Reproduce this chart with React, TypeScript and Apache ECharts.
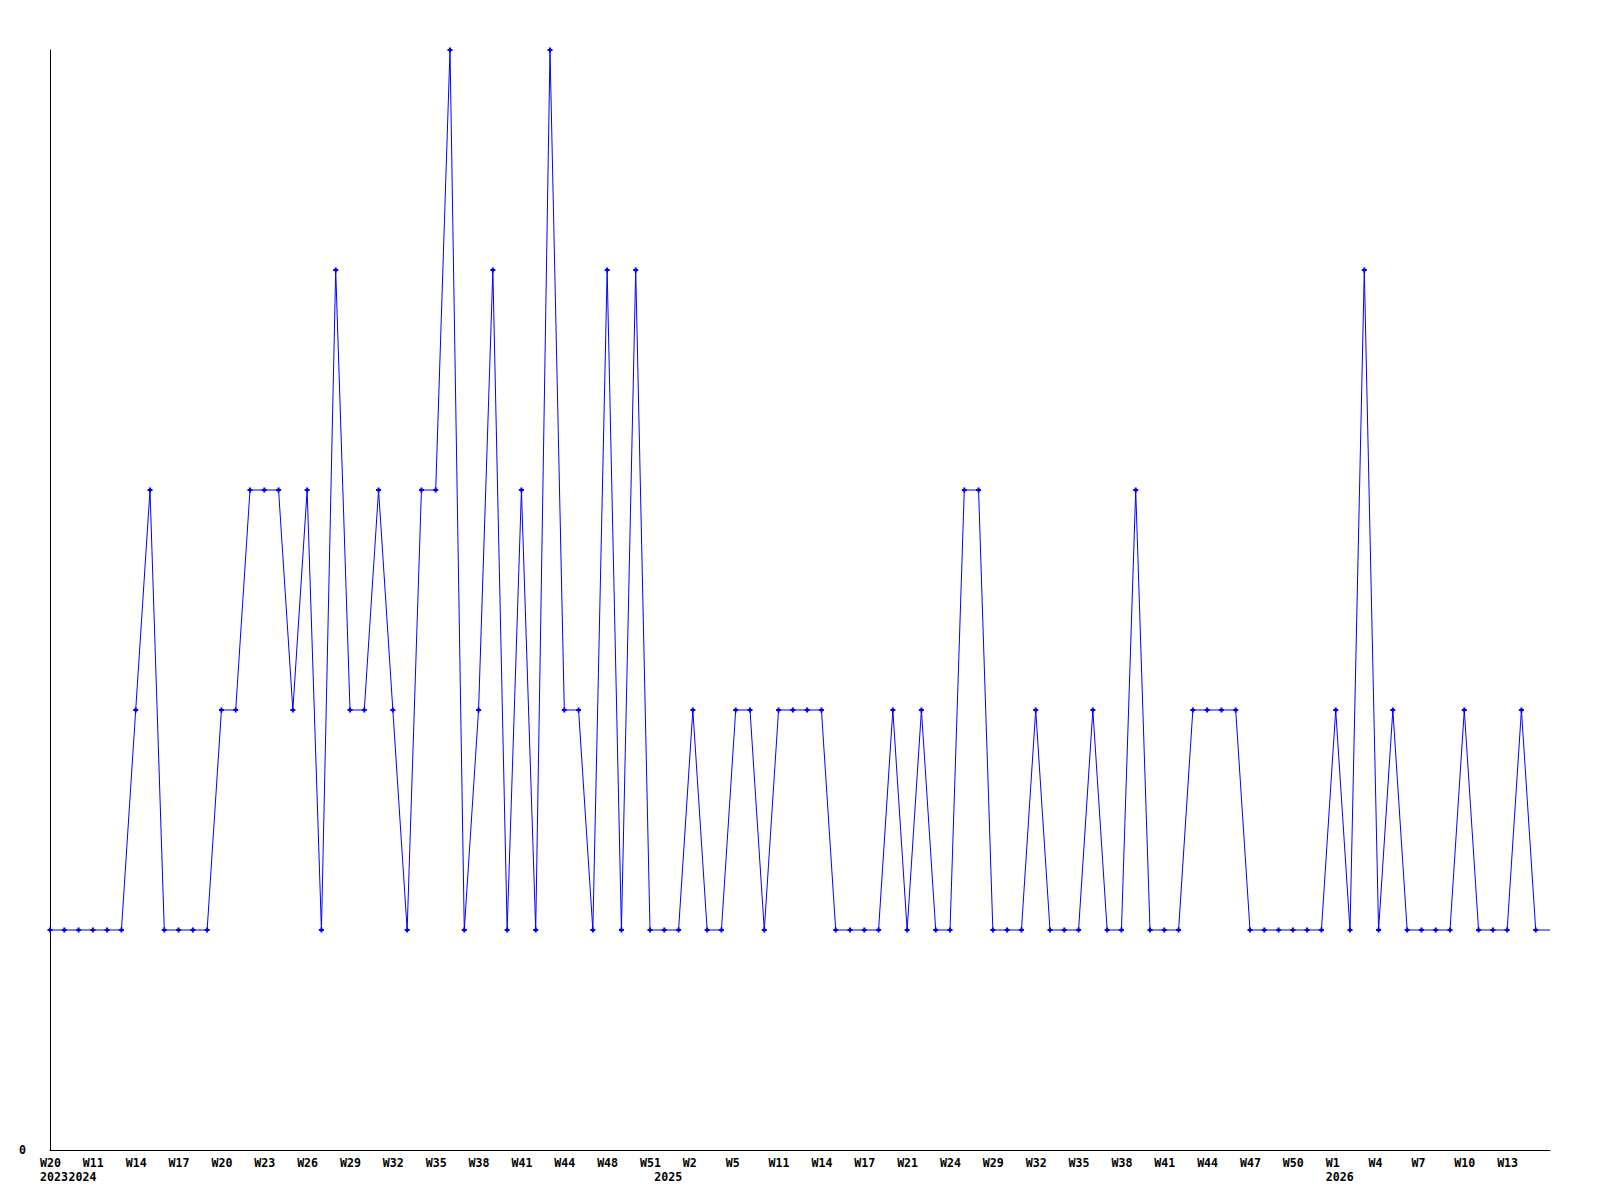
import React, { useEffect, useRef } from "react";
import * as echarts from "echarts";

// Week keys (one per plotted category)
const weekLabels = [
  "W20", "W21", "W10", "W11", "W12", "W13", "W14", "W15", "W16", "W17",
  "W18", "W19", "W20", "W21", "W22", "W23", "W24", "W25", "W26", "W27",
  "W28", "W29", "W30", "W31", "W32", "W33", "W34", "W35", "W36", "W37",
  "W38", "W39", "W40", "W41", "W42", "W43", "W44", "W45", "W46", "W48",
  "W49", "W50", "W51", "W52", "W1", "W2", "W3", "W4", "W5", "W7",
  "W9", "W11", "W12", "W13", "W14", "W15", "W16", "W17", "W18", "W20",
  "W21", "W22", "W23", "W24", "W26", "W27", "W29", "W30", "W31", "W32",
  "W33", "W34", "W35", "W36", "W37", "W38", "W39", "W40", "W41", "W42",
  "W43", "W44", "W45", "W46", "W47", "W48", "W49", "W50", "W51", "W52",
  "W1", "W2", "W3", "W4", "W5", "W6", "W7", "W8", "W9", "W10",
  "W11", "W12", "W13", "W14", "W15", "W16",
];

// Indices of categories whose week label is printed
const weekTickIdx = [
  0, 3, 6, 9, 12, 15, 18, 21, 24, 27, 30, 33, 36, 39, 42, 45, 48, 51,
  54, 57, 60, 63, 66, 69, 72, 75, 78, 81, 84, 87, 90, 93, 96, 99, 102,
];

// Year labels shown under the week row (blank where none)
const yearLabels: string[] = weekLabels.map(() => "");
yearLabels[0] = "2023";
yearLabels[2] = "2024";
yearLabels[43] = "2025";
yearLabels[90] = "2026";

const values = [
  1, 1, 1, 1, 1, 1, 2, 3, 1, 1,
  1, 1, 2, 2, 3, 3, 3, 2, 3, 1,
  4, 2, 2, 3, 2, 1, 3, 3, 5, 1,
  2, 4, 1, 3, 1, 5, 2, 2, 1, 4,
  1, 4, 1, 1, 1, 2, 1, 1, 2, 2,
  1, 2, 2, 2, 2, 1, 1, 1, 1, 2,
  1, 2, 1, 1, 3, 3, 1, 1, 1, 2,
  1, 1, 1, 2, 1, 1, 3, 1, 1, 1,
  2, 2, 2, 2, 1, 1, 1, 1, 1, 1,
  2, 1, 4, 1, 2, 1, 1, 1, 1, 2,
  1, 1, 1, 2, 1, 1,
];

const categories = weekLabels.map((w, i) => `${i}-${w}`);

const FONT = "DejaVu Sans Mono";

export default function App() {
  const ref = useRef<HTMLDivElement>(null);

  useEffect(() => {
    if (!ref.current) return;
    const chart = echarts.init(ref.current, undefined, { renderer: "svg" });
    const plus = "path://M1.5,0H3.5V1.5H5V3.5H3.5V5H1.5V3.5H0V1.5H1.5Z";
    const labelBase = {
      color: "#000",
      fontFamily: FONT,
      fontWeight: "bold" as const,
      fontSize: 11.6,
    };
    chart.setOption({
      animation: false,
      backgroundColor: "#fff",
      grid: [
        { left: 50, top: 50, width: 1500, height: 1100, containLabel: false },
        { left: 40, top: 50, width: 1500, height: 1100, containLabel: false },
      ],
      xAxis: [
        {
          type: "category",
          gridIndex: 0,
          position: "bottom",
          data: categories,
          boundaryGap: false,
          axisLine: { show: true, lineStyle: { color: "#000", width: 1 } },
          axisTick: { show: false },
          axisLabel: { show: false },
          splitLine: { show: false },
        },
        {
          type: "category",
          gridIndex: 1,
          position: "bottom",
          data: categories,
          boundaryGap: false,
          axisLine: { show: false },
          axisTick: { show: false },
          splitLine: { show: false },
          axisLabel: {
            ...labelBase,
            align: "left",
            margin: 7,
            interval: (i: number) => weekTickIdx.includes(i),
            formatter: (_v: string, i: number) => weekLabels[i],
          },
        },
        {
          type: "category",
          gridIndex: 1,
          position: "bottom",
          offset: 0,
          data: categories,
          boundaryGap: false,
          axisLine: { show: false },
          axisTick: { show: false },
          splitLine: { show: false },
          axisLabel: {
            ...labelBase,
            align: "left",
            margin: 21,
            interval: (i: number) => yearLabels[i] !== "",
            formatter: (_v: string, i: number) => yearLabels[i],
          },
        },
      ],
      yAxis: [
        {
          type: "value",
          gridIndex: 0,
          min: 0,
          max: 5,
          interval: 5,
          axisLine: { show: true, lineStyle: { color: "#000", width: 1 } },
          axisTick: { show: false },
          splitLine: { show: false },
          axisLabel: {
            ...labelBase,
            margin: 24,
            formatter: (v: number) => (v === 0 ? "0" : ""),
          },
        },
        { type: "value", gridIndex: 1, show: false, min: 0, max: 5 },
      ],
      series: [
        {
          type: "line",
          xAxisIndex: 0,
          yAxisIndex: 0,
          data: values.map((v, i) =>
            i === values.length - 1 ? { value: v, symbol: "none" } : v
          ),
          showAllSymbol: true,
          symbol: plus,
          symbolSize: 5,
          lineStyle: { color: "#0000ff", width: 1 },
          itemStyle: { color: "#0000ff" },
          clip: false,
        },
      ],
    });
    return () => chart.dispose();
  }, []);

  return (
    <div
      ref={ref}
      style={{ position: "absolute", left: 0, top: 0, width: 1600, height: 1200 }}
    />
  );
}
